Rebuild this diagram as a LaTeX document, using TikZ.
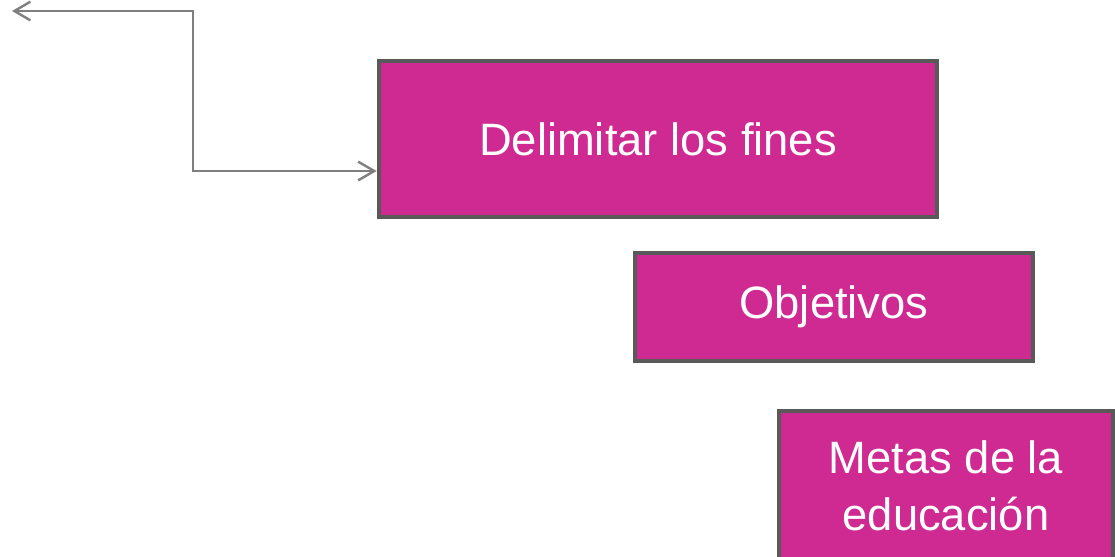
\documentclass[tikz,border=0pt]{standalone}
\usepackage{fontspec}
\setmainfont{Liberation Sans}
\usetikzlibrary{arrows.meta,calc}

\definecolor{boxfill}{RGB}{207,42,145}
\definecolor{boxline}{RGB}{89,89,89}
\definecolor{linkgray}{RGB}{127,127,127}

\tikzset{
    stepbox/.style={draw=boxline, line width=3.6pt, fill=boxfill, text=white,
        align=center, inner sep=0pt,
        font=\fontsize{34}{42.75}\selectfont},
    link/.style={draw=linkgray, line width=1.8pt,
        {Straight Barb[length=12pt,width=14pt]}-{Straight Barb[length=12pt,width=14pt]}}
}

\begin{document}
\begin{tikzpicture}[x=0.75pt,y=-0.75pt]
    \useasboundingbox (0,0) rectangle (1115,557);
    \node [stepbox, minimum width=558*0.75pt, minimum height=156*0.75pt] (fines) at (658,139) {Delimitar los fines};
    \node [stepbox, minimum width=398*0.75pt, minimum height=108*0.75pt] (obj) at (834,307) {Objetivos};
    \node [stepbox, minimum width=334*0.75pt, minimum height=150*0.75pt] (metas) at (946,486) {Metas de la\\educación};
    \coordinate (free) at (12,11);
    \coordinate (knee) at (193,11);
    \draw [link] (free) -- (knee) |- ($(fines.west)+(0,32)$);
\end{tikzpicture}
\end{document}
